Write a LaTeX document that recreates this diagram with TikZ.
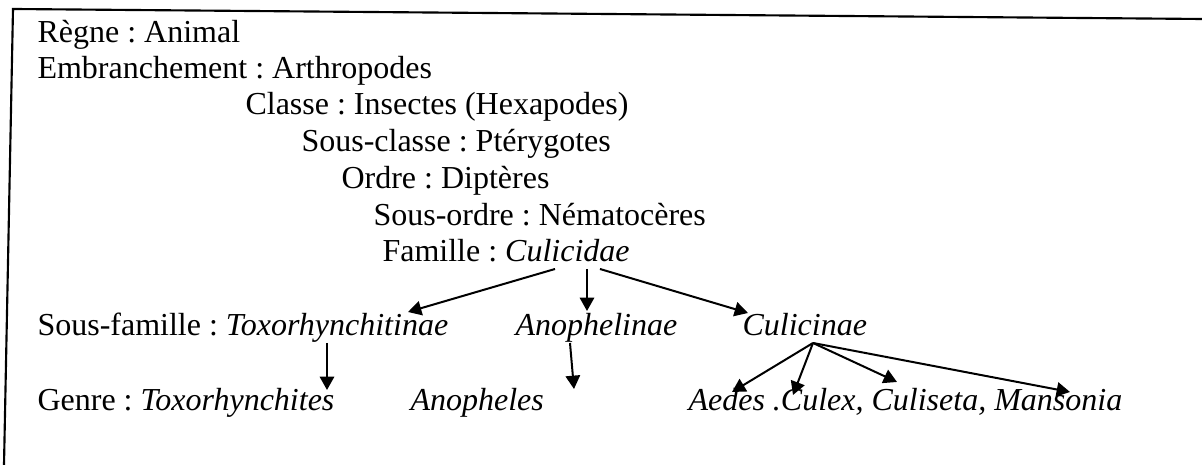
\documentclass[tikz,border=0pt]{standalone}
\usepackage{fontspec}
\setmainfont{Liberation Serif}
\usetikzlibrary{arrows.meta}
\frenchspacing
\begin{document}
\begin{tikzpicture}[x=0.375pt,y=-0.375pt,
  lbl/.style={anchor=base west,inner sep=0pt,font=\fontsize{12}{14}\selectfont},
  arr/.style={line width=0.75pt,-{Triangle[length=5pt,width=5.4pt]}},
  frame/.style={line width=0.8pt,line cap=round}]
\useasboundingbox (0,0) rectangle (1202,465);

% open frame: left and top edges
\draw[frame] (4,465) -- (13,9) -- (1202,19);

% classification ladder
\node[lbl] (regne)      at (37,43)  {Règne : Animal};
\node[lbl] (embr)       at (37,79)  {Embranchement : Arthropodes};
\node[lbl] (classe)     at (245,115) {Classe : Insectes (Hexapodes)};
\node[lbl] (sousclasse) at (301,152) {Sous-classe : Ptérygotes};
\node[lbl] (ordre)      at (341,189) {Ordre : Diptères};
\node[lbl] (sousordre)  at (373,226) {Sous-ordre : Nématocères};
\node[lbl] (famille)    at (382,262) {Famille : \textit{Culicidae}};

% sub-families
\node[lbl] (sousfam)     at (37,336)  {Sous-famille : \textit{Toxorhynchitinae}};
\node[lbl] (anophelinae) at (515,336) {\textit{Anophelinae}};
\node[lbl] (culicinae)   at (742,336) {\textit{Culicinae}};

% genera
\node[lbl] (genre)     at (37,411)  {Genre : \textit{Toxorhynchites}};
\node[lbl] (anopheles) at (410,411) {\textit{Anopheles}};
\node[lbl] (genres)    at (688,411) {\textit{Aedes .Culex, Culiseta, Mansonia}};

% arrow ends
\coordinate (famL) at (555,269);
\coordinate (famM) at (587,269);
\coordinate (famR) at (600,269);
\coordinate (toxoT) at (408,312);
\coordinate (anoT)  at (587,311);
\coordinate (culT)  at (748,313);
\coordinate (toxoS) at (327,343);
\coordinate (toxoE) at (327,390);
\coordinate (anoS)  at (570,343);
\coordinate (anoE)  at (574,389);
\coordinate (culS)  at (813,343);
\coordinate (aedE)  at (732,392);
\coordinate (culxE) at (793,395);
\coordinate (culsE) at (897,382);
\coordinate (manE)  at (1070,392);

\draw[arr] (famL) -- (toxoT);
\draw[arr] (famM) -- (anoT);
\draw[arr] (famR) -- (culT);
\draw[arr] (toxoS) -- (toxoE);
\draw[arr] (anoS) -- (anoE);
\draw[arr] (culS) -- (aedE);
\draw[arr] (culS) -- (culxE);
\draw[arr] (culS) -- (culsE);
\draw[arr] (culS) -- (manE);
\end{tikzpicture}
\end{document}
